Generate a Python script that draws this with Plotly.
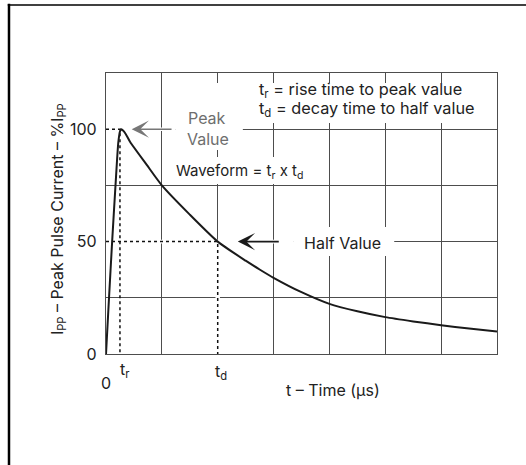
import plotly.graph_objects as go

# ---- data ----
t_values = [0, 0.054, 0.11, 0.17, 0.22, 0.25, 0.27, 0.3, 0.35, 0.43, 0.73, 1.0,
            1.5, 2.0, 2.5, 2.75, 3.0, 3.5, 4.0, 4.5, 5.0, 5.5, 6.0, 6.5, 7.0]
ipp_values = [0, 25, 50, 75, 94, 99, 100, 99.5, 98, 94.4, 84.1, 75,
              62, 50, 41.5, 37.6, 33.9, 27.5, 22.3, 19, 16.4, 14.5, 12.8, 11.3, 10.0]
t_rise = 0.25
t_decay = 2.0
peak_value = 100
half_value = 50
y_ticks = [0, 25, 50, 75, 100, 125]
y_ticktext = ["0", "", "50", "", "100", ""]

FONT = "Inter, Liberation Sans, Arial, sans-serif"
FS = 16
GRID = "#4d4d4d"
TXT = "#222222"

fig = go.Figure()

# dotted guide lines
fig.add_trace(go.Scatter(x=[0, t_rise, t_rise], y=[peak_value, peak_value, 0],
                         mode="lines", line=dict(color="#111", width=1.5, dash="dot"),
                         hoverinfo="skip", showlegend=False))
fig.add_trace(go.Scatter(x=[0, t_decay, t_decay], y=[half_value, half_value, 0],
                         mode="lines", line=dict(color="#111", width=1.5, dash="dot"),
                         hoverinfo="skip", showlegend=False))
# waveform
fig.add_trace(go.Scatter(x=t_values, y=ipp_values, mode="lines",
                         line=dict(color="#1a1a1a", width=2, shape="spline", smoothing=0.6),
                         showlegend=False))

shapes = []
def white_box(x0, x1, y0, y1):
    shapes.append(dict(type="rect", xref="x", yref="y", x0=x0, x1=x1, y0=y0, y1=y1,
                       fillcolor="white", line=dict(width=0), layer="between"))

white_box(2.58, 6.87, 102.8, 120.6)   # tr / td text
white_box(1.25, 2.45, 90.7, 120.6)    # Peak Value
white_box(1.15, 3.92, 75.6, 87.6)     # Waveform
white_box(3.35, 5.16, 43.6, 56.5)     # Half Value
white_box(0.02, 3.35, 49.2, 50.8)     # under half dotted
white_box(1.96, 2.04, 0.4, 50)        # under td dotted
white_box(0.02, 1.25, 99.2, 100.8)    # under peak dotted

# outer frame lines
shapes.append(dict(type="line", xref="paper", yref="paper", x0=-0.2481, x1=-0.2481,
                   y0=1.246, y1=-0.42, line=dict(color="black", width=2.5)))
shapes.append(dict(type="line", xref="paper", yref="paper", x0=-0.2513, x1=1.09,
                   y0=1.242, y1=1.242, line=dict(color="black", width=1.5)))

def txt(x, y, s, xanchor="left", color=TXT, size=FS, **kw):
    d = dict(x=x, y=y, xref="x", yref="y", xanchor=xanchor, yanchor="middle",
             text=s, showarrow=False, font=dict(family=FONT, size=size, color=color))
    d.update(kw)
    return d

annotations = [
    txt(2.72, 117.5, "t<sub>r</sub> = rise time to peak value", size=16.3, borderpad=0),
    txt(2.72, 109.0, "t<sub>d</sub> = decay time to half value", size=16.3, borderpad=0),
    txt(1.80, 104.9, "Peak", xanchor="center", color="#6e6e6e", borderpad=0),
    txt(1.83, 95.6, "Value", xanchor="center", color="#6e6e6e", borderpad=0),
    txt(1.22, 81.0, "Waveform = t<sub>r</sub> x t<sub>d</sub>", size=15),
    txt(3.51, 49.4, "Half Value"),
    # arrows
    dict(x=0.46, y=peak_value, ax=1.2, ay=peak_value, xref="x", yref="y", axref="x", ayref="y",
         text="", showarrow=True, arrowhead=3, arrowsize=1.8, arrowwidth=1.6,
         arrowcolor="#777777", standoff=0),
    dict(x=2.36, y=half_value, ax=3.12, ay=half_value, xref="x", yref="y", axref="x", ayref="y",
         text="", showarrow=True, arrowhead=3, arrowsize=1.8, arrowwidth=1.6,
         arrowcolor="#1a1a1a", standoff=0),
    # x labels
    dict(x=0, y=-0.103, xref="x", yref="paper", xanchor="center", yanchor="middle",
         text="0", showarrow=False, font=dict(family=FONT, size=FS, color=TXT)),
    dict(x=t_rise, y=-0.057, xref="x", yref="paper", xanchor="left", yanchor="middle", xshift=-2,
         text="t<sub>r</sub>", showarrow=False, font=dict(family=FONT, size=FS, color=TXT)),
    dict(x=t_decay, y=-0.064, xref="x", yref="paper", xanchor="left", yanchor="middle", xshift=-5,
         text="t<sub>d</sub>", showarrow=False, font=dict(family=FONT, size=FS, color=TXT)),
    # axis titles
    dict(x=0.5806, y=-0.128, xref="paper", yref="paper", xanchor="center", yanchor="middle",
         text="t – Time (μs)", showarrow=False, font=dict(family=FONT, size=FS, color=TXT)),
    dict(x=-0.1228, y=0.48, xref="paper", yref="paper", xanchor="center", yanchor="middle",
         textangle=-90, text="I<sub>PP</sub> – Peak Pulse Current – %I<sub>PP</sub>",
         showarrow=False, font=dict(family=FONT, size=FS, color=TXT)),
]

fig.update_layout(
    width=526, height=465,
    margin=dict(l=106, r=29, t=73, b=111),
    paper_bgcolor="white", plot_bgcolor="white",
    shapes=shapes, annotations=annotations,
    font=dict(family=FONT, size=FS, color=TXT),
    xaxis=dict(range=[0, 7], dtick=1, tick0=0, showgrid=True, gridcolor=GRID, gridwidth=1.2,
               showticklabels=False, ticks="", zeroline=False,
               showline=True, mirror=True, linecolor=GRID, linewidth=1.3, fixedrange=True),
    yaxis=dict(range=[0, 125], tickmode="array", tickvals=y_ticks, ticktext=y_ticktext,
               showgrid=True, gridcolor=GRID, gridwidth=1.2, ticks="", ticklabelstandoff=5,
               tickfont=dict(family=FONT, size=16, color=TXT), zeroline=False,
               showline=True, mirror=True, linecolor=GRID, linewidth=1.3, fixedrange=True),
)

fig.write_html("out.html", config={"displayModeBar": False},
               post_script="document.body.style.margin='0';document.body.style.overflow='hidden';")
